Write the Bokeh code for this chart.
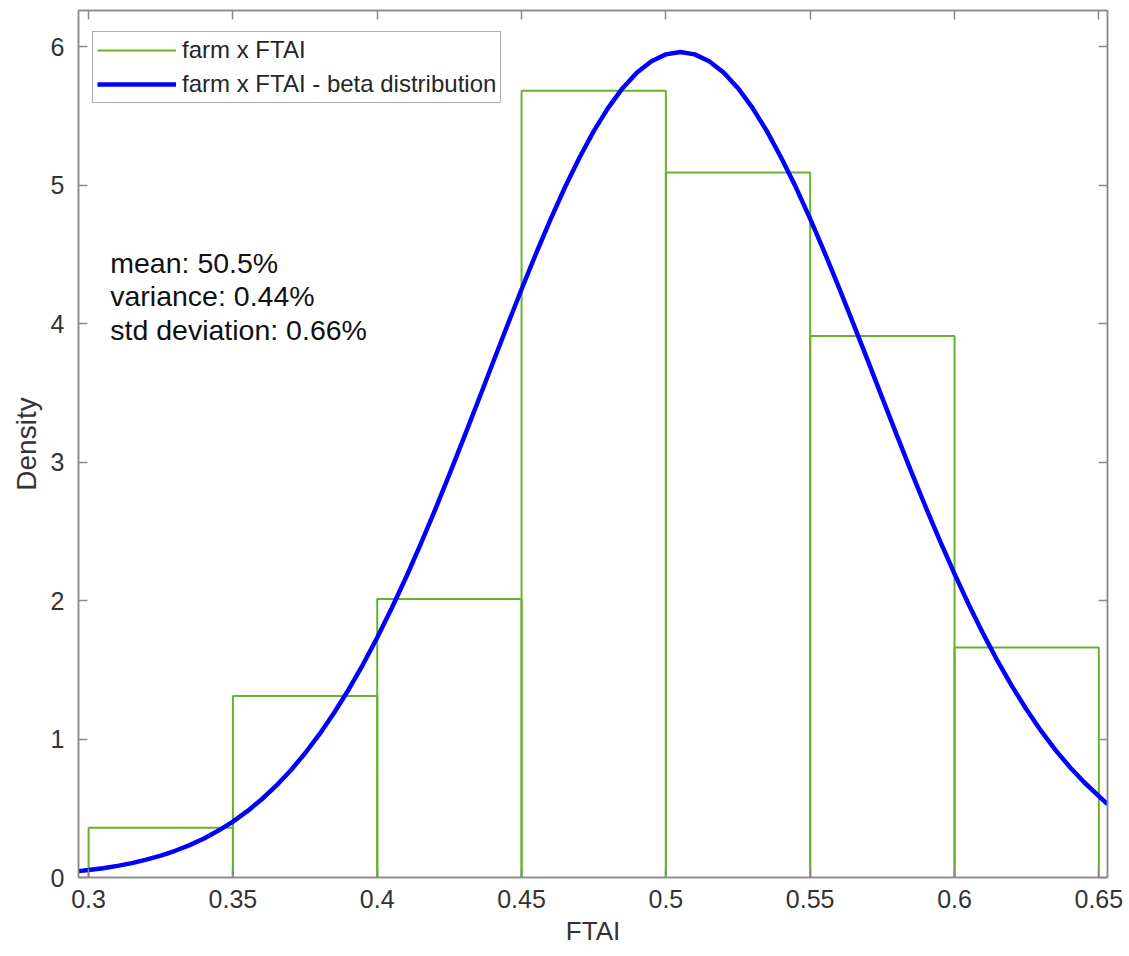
from bokeh.plotting import figure
from bokeh.models import Range1d, LinearAxis, FixedTicker, Legend, LegendItem, Label
from bokeh.embed import file_html
from bokeh.resources import INLINE

# ---- data ----
bin_edges = [0.30, 0.35, 0.40, 0.45, 0.50, 0.55, 0.60, 0.65]
density = [0.36, 1.31, 2.01, 5.68, 5.09, 3.91, 1.66]

curve_x = [0.2965, 0.300, 0.305, 0.310, 0.315, 0.320, 0.325, 0.330, 0.335, 0.340,
           0.345, 0.350, 0.355, 0.360, 0.365, 0.370, 0.375, 0.380, 0.385, 0.390,
           0.395, 0.400, 0.405, 0.410, 0.415, 0.420, 0.425, 0.430, 0.435, 0.440,
           0.445, 0.450, 0.455, 0.460, 0.465, 0.470, 0.475, 0.480, 0.485, 0.490,
           0.495, 0.500, 0.505, 0.510, 0.515, 0.520, 0.525, 0.530, 0.535, 0.540,
           0.545, 0.550, 0.555, 0.560, 0.565, 0.570, 0.575, 0.580, 0.585, 0.590,
           0.595, 0.600, 0.605, 0.610, 0.615, 0.620, 0.625, 0.630, 0.635, 0.640,
           0.645, 0.650, 0.653]
curve_y = [0.046, 0.054, 0.067, 0.084, 0.104, 0.129, 0.158, 0.193, 0.234, 0.282,
           0.339, 0.403, 0.479, 0.565, 0.663, 0.773, 0.897, 1.035, 1.188, 1.354,
           1.536, 1.733, 1.944, 2.168, 2.405, 2.653, 2.910, 3.174, 3.442, 3.713,
           3.982, 4.247, 4.504, 4.750, 4.982, 5.195, 5.389, 5.557, 5.699, 5.812,
           5.894, 5.943, 5.960, 5.943, 5.894, 5.812, 5.699, 5.557, 5.389, 5.195,
           4.985, 4.755, 4.512, 4.258, 3.996, 3.730, 3.461, 3.194, 2.931, 2.675,
           2.428, 2.192, 1.968, 1.757, 1.560, 1.378, 1.211, 1.058, 0.920, 0.796,
           0.686, 0.588, 0.530]

x_ticks = [0.3, 0.35, 0.4, 0.45, 0.5, 0.55, 0.6, 0.65]
x_tick_labels = ["0.3", "0.35", "0.4", "0.45", "0.5", "0.55", "0.6", "0.65"]
y_ticks = [0, 1, 2, 3, 4, 5, 6]

legend_labels = ["farm x FTAI", "farm x FTAI - beta distribution"]
stats_lines = ["mean: 50.5%", "variance: 0.44%", "std deviation: 0.66%"]

FONT = "Liberation Sans"
AXIS_COLOR = "#8a8a8a"
TEXT_COLOR = "#333333"
GREEN = "#66b32e"
BLUE = "#0000ff"

p = figure(width=1129, height=956, output_backend="svg", toolbar_location=None,
           x_range=Range1d(0.2965, 0.653), y_range=Range1d(0, 6.26),
           min_border_left=78, min_border_right=22, min_border_top=10, min_border_bottom=79)
p.background_fill_color = "white"
p.border_fill_color = "white"
p.xgrid.visible = False
p.ygrid.visible = False
p.outline_line_color = AXIS_COLOR
p.outline_line_width = 1.5

# histogram bars as outlines built from the bin data
hist_xs = [[bin_edges[i], bin_edges[i], bin_edges[i + 1], bin_edges[i + 1]] for i in range(len(density))]
hist_ys = [[0, h, h, 0] for h in density]
hist_r = p.multi_line(hist_xs, hist_ys, line_color=GREEN, line_width=2)

curve_r = p.line(curve_x, curve_y, line_color=BLUE, line_width=4.5, line_join="round")

def style_axis(ax, show_labels=True):
    ax.axis_line_color = AXIS_COLOR
    ax.axis_line_width = 1.5
    ax.major_tick_line_color = AXIS_COLOR
    ax.major_tick_line_width = 1.5
    ax.major_tick_in = 9
    ax.major_tick_out = 0
    ax.minor_tick_line_color = None
    ax.major_label_text_font = FONT
    if show_labels:
        ax.major_label_text_font_size = "25px"
        ax.major_label_text_color = TEXT_COLOR
    else:
        ax.major_label_text_font_size = "0px"
        ax.major_label_text_color = None
        ax.major_label_standoff = 0

xa = p.xaxis[0]
xa.ticker = FixedTicker(ticks=x_ticks)
xa.major_label_overrides = {t: s for t, s in zip(x_ticks, x_tick_labels)}
style_axis(xa)
xa.major_label_standoff = 12
xa.axis_label = "FTAI"
xa.axis_label_text_font = FONT
xa.axis_label_text_font_size = "26px"
xa.axis_label_text_font_style = "normal"
xa.axis_label_text_color = TEXT_COLOR
xa.axis_label_standoff = 5

ya = p.yaxis[0]
ya.ticker = FixedTicker(ticks=y_ticks)
style_axis(ya)
ya.major_label_standoff = 14
ya.axis_label = "Density"
ya.axis_label_text_font = FONT
ya.axis_label_text_font_size = "28px"
ya.axis_label_text_font_style = "normal"
ya.axis_label_text_color = TEXT_COLOR
ya.axis_label_standoff = 6

top_ax = LinearAxis(ticker=FixedTicker(ticks=x_ticks))
style_axis(top_ax, show_labels=False)
p.add_layout(top_ax, "above")
right_ax = LinearAxis(ticker=FixedTicker(ticks=y_ticks))
style_axis(right_ax, show_labels=False)
p.add_layout(right_ax, "right")

legend = Legend(items=[LegendItem(label=legend_labels[0], renderers=[hist_r]),
                       LegendItem(label=legend_labels[1], renderers=[curve_r])],
                location=(14, 774))
legend.label_text_font = FONT
legend.label_text_font_size = "24px"
legend.label_text_color = "#262626"
legend.glyph_width = 79
legend.glyph_height = 26
legend.label_height = 26
legend.label_standoff = 6
legend.spacing = 6
legend.padding = 4
legend.margin = 0
legend.border_line_color = "#5a5a5a"
legend.border_line_width = 1.5
legend.background_fill_color = "white"
legend.background_fill_alpha = 1
p.add_layout(legend)

stats_y = [4.44, 4.195, 3.95]
for txt, yy in zip(stats_lines, stats_y):
    p.add_layout(Label(x=0.3075, y=yy, text=txt, text_font=FONT, text_font_size="28.5px",
                       text_color="#111111", text_baseline="alphabetic", text_align="left"))

open("out.html", "w").write(file_html(p, INLINE))
